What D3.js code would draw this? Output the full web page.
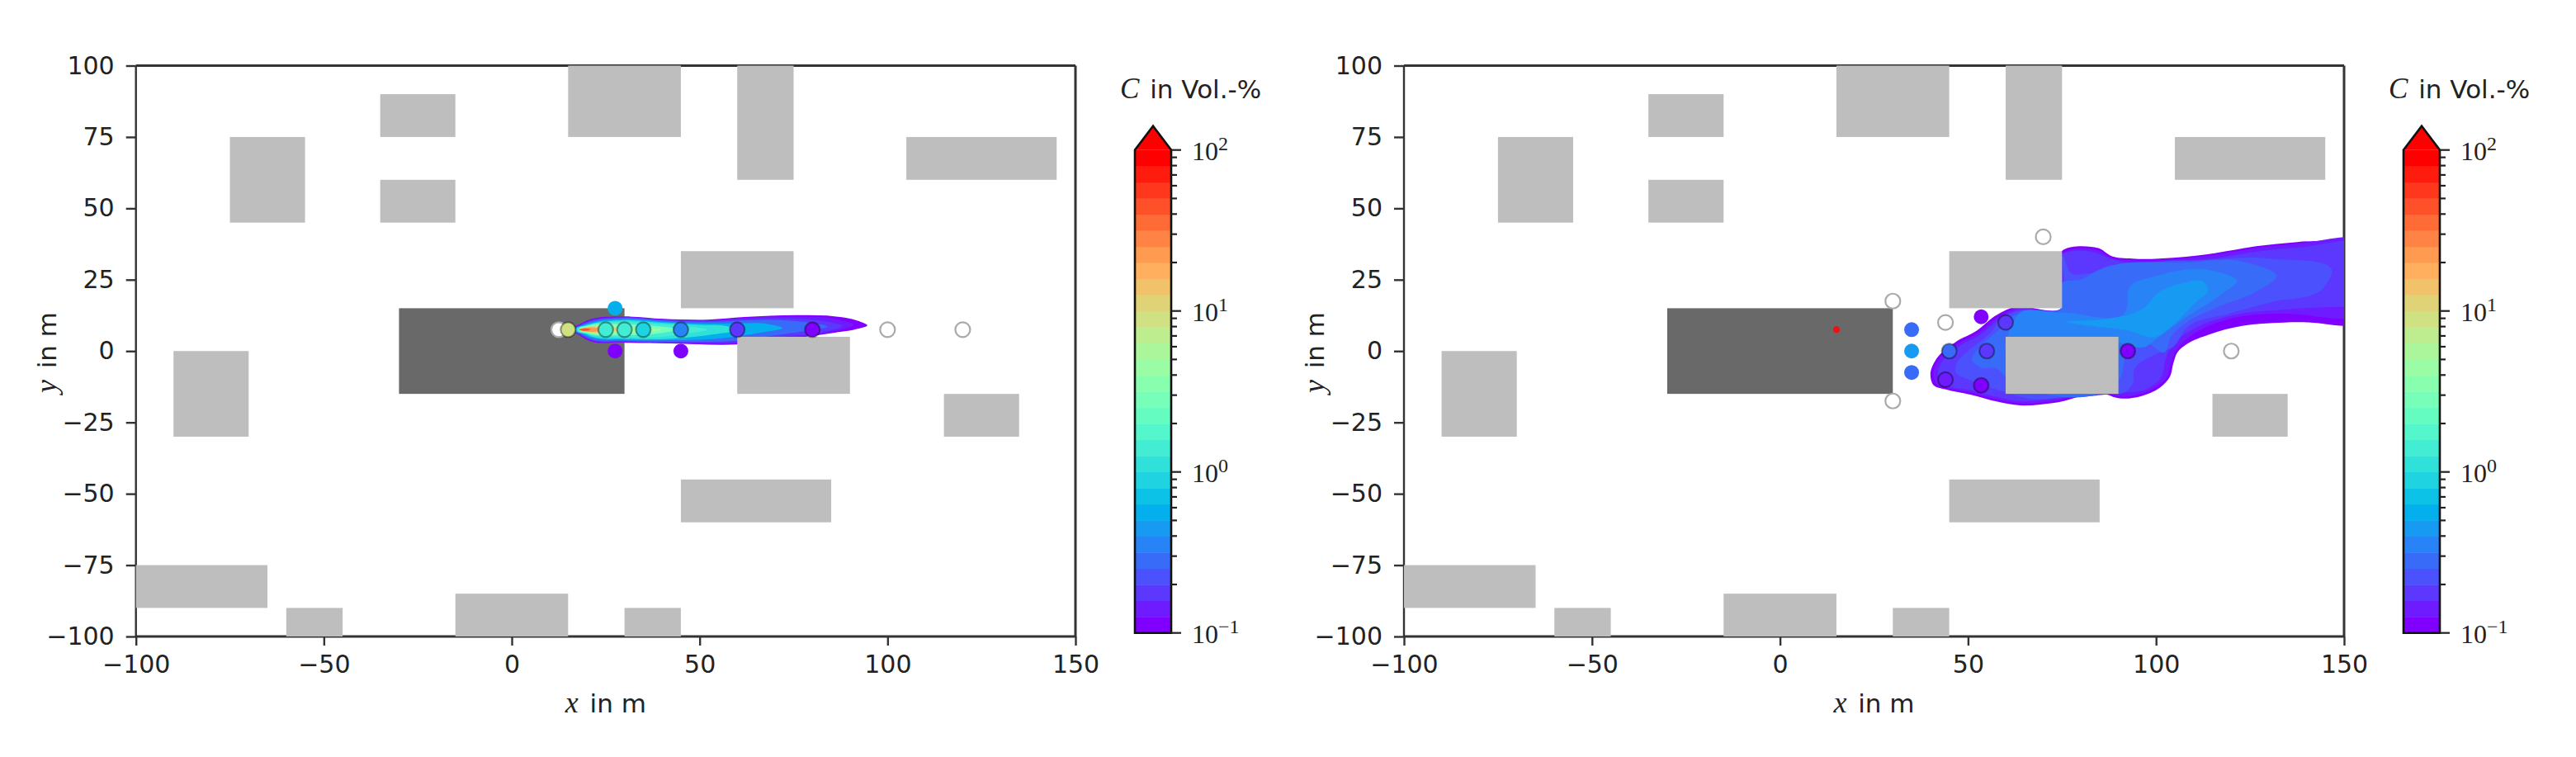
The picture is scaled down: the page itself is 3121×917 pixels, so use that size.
<!DOCTYPE html>
<html>
<head>
<meta charset="utf-8">
<script src="https://cdn.jsdelivr.net/npm/d3@7"></script>
<style>
  html, body { margin: 0; background: #fff; }
  text { font-family: "DejaVu Sans", sans-serif; fill: #222; }
</style>
</head>
<body>
<svg id="chart" width="3121" height="917"></svg>
<script>
// buildings, [x0, x1, y0, y1] in m
var buildings = [
  [15, 45, 75, 100], [60, 75, 60, 100], [-35, -15, 75, 90], [-75, -55, 45, 75],
  [-35, -15, 45, 60], [105, 145, 60, 75], [45, 75, 15, 35], [60, 90, -15, 5],
  [-90, -70, -30, 0], [115, 135, -30, -15], [45, 85, -60, -45], [-100, -65, -90, -75],
  [-60, -45, -100, -90], [-15, 15, -100, -85], [30, 45, -100, -90]
];
var hall = [-30, 30, -15, 15];

var xTicks = [-100, -50, 0, 50, 100, 150];
var yTicks = [-100, -75, -50, -25, 0, 25, 50, 75, 100];

// sensors, [x, y, concentration]
var emptyLeft = [[12.5, 7.5], [100, 7.5], [120, 7.5]];
var inCloudLeft = [
  [15, 7.5, 8], [25, 7.5, 1.5], [30, 7.5, 1.3], [35, 7.5, 0.9],
  [45, 7.5, 0.33], [60, 7.5, 0.19], [80, 7.5, 0.105]
];
var outsideLeft = [[27.5, 15, 0.6], [27.5, 0, 0.105], [45, 0, 0.105]];

var emptyRight = [[70, 40], [30, 17.5], [30, -17.5], [44, 10], [120, 0]];
var inCloudRight = [
  [45, 0, 0.3], [55, 0, 0.19], [60, 10, 0.19], [44, -10, 0.15],
  [53.5, -12, 0.105], [92.5, 0, 0.115]
];
var outsideRight = [[35, 7.5, 0.3], [35, 0, 0.45], [35, -7.5, 0.3], [53.5, 12, 0.105]];
var sourceRight = [15, 7.5];

// contour outlines of the cloud, [level, points] from the outside in
var plumeLeft = [
  [0.1, [[16.5, 8.2], [18, 9.3], [20, 10.7], [29.7, 12.1], [40.4, 11.3], [52.2, 11], [61.9, 11.9], [76.6, 12.6], [86.3, 12.1], [92, 10.6], [94.6, 9], [92, 7.8], [86.3, 6.5], [71.7, 3.9], [60, 2.3], [42.4, 2.7], [29.7, 3], [20, 3.9], [18, 5.6], [16.5, 6.9]]],
  [0.13, [[16.6, 8.1], [18.1, 9.2], [20.2, 10.55], [30, 11.95], [40, 11.15], [52, 10.85], [62, 11.6], [76, 12.1], [86, 11.3], [91, 9.2], [86, 7], [72, 4.4], [60, 2.7], [42, 2.85], [30, 3.15], [20.2, 4.05], [18.1, 5.7], [16.6, 7]]],
  [0.17, [[16.7, 8], [18.2, 9.1], [20.4, 10.4], [30, 11.8], [40, 11], [52, 10.6], [62, 11.2], [76, 11.3], [84, 10.3], [88, 8.8], [84, 7], [72, 5], [60, 3.2], [42, 3], [30, 3.3], [20.4, 4.2], [18.2, 5.8], [16.7, 7]]],
  [0.28, [[16.8, 7.9], [18.4, 9], [20.6, 10.2], [30, 11.6], [40, 10.7], [52, 10.2], [62, 10.7], [72, 10.8], [80, 9.8], [84, 8.6], [78, 7], [70, 5.5], [60, 3.7], [42, 3.3], [30, 3.5], [20.6, 4.4], [18.4, 5.9], [16.8, 7.1]]],
  [0.6, [[17, 7.8], [18.6, 8.9], [21, 9.9], [30, 11.2], [40, 10.3], [52, 9.6], [60, 9.7], [68, 9.5], [72, 8.2], [66, 6.4], [58, 4.8], [42, 3.8], [30, 3.9], [21, 4.8], [18.6, 6.1], [17, 7.2]]],
  [1, [[17.2, 7.7], [19, 8.7], [21, 9.5], [30, 10.8], [40, 9.9], [50, 9.2], [58, 8.5], [60, 7.6], [54, 5.9], [42, 4.3], [30, 4.3], [21, 5.2], [19, 6.4], [17.2, 7.3]]],
  [1.5, [[17.5, 7.7], [20, 9], [30, 10.2], [40, 9.4], [48, 8.5], [52, 7.5], [46, 6], [40, 5], [30, 4.9], [20, 6], [17.5, 7.2]]],
  [3, [[18, 7.8], [20, 8.8], [30, 9.4], [38, 8.8], [44, 7.6], [38, 6], [30, 5.6], [20, 6.2], [18, 7.2]]],
  [5, [[18.5, 7.7], [21, 8.7], [30, 8.8], [36, 8.3], [40, 7.5], [36, 6.5], [30, 6.2], [21, 6.3]]],
  [10, [[18, 7.6], [21, 8.5], [26, 8.4], [30, 7.7], [26, 6.7], [21, 6.5]]],
  [20, [[18, 7.5], [20, 8.2], [23, 8.1], [25, 7.5], [23, 6.9], [20, 6.8]]],
  [40, [[18, 7.5], [19, 7.9], [21, 7.6], [19, 7.1]]]
];
var plumeRight = [
  [0.1, [[75.4, 35.5], [82.7, 36.5], [85.2, 35.8], [87.8, 33.5], [93.7, 32.4], [104.6, 32.7], [115.6, 34.3], [126.6, 36.7], [137.5, 38.2], [149.6, 38.9], [156, 39.3], [156, 8.6], [149.6, 8.8], [141.2, 10], [133.9, 10], [122.9, 8.8], [114.1, 5.8], [108.3, 2.5], [105.7, -0.4], [104.6, -4.3], [103.7, -9], [101, -12.9], [96, -15.8], [89, -16.2], [87.2, -15.3], [72.5, -18.2], [63.8, -19], [57.8, -17.7], [50.8, -15.3], [43.9, -13.4], [40.8, -11.9], [40, -8], [41.3, -3.3], [46.5, 3], [52.5, 7.3], [56.9, 12.1], [61.2, 15], [75, 15]]],
  [0.13, [[75.4, 34.5], [82.7, 35.8], [85.2, 35], [87.8, 32.8], [93.7, 31.8], [104.6, 32.1], [115.6, 33.7], [126.6, 36.1], [137.5, 37.6], [156, 38.4], [156, 11], [149.6, 11.2], [133.9, 13.1], [119.3, 11.2], [110.5, 6.4], [106.1, 1.5], [103.9, -4.3], [103, -9], [100, -12.5], [96, -15], [89, -15.5], [87.5, -14.5], [72.5, -17.5], [64, -18.3], [58, -17], [51, -14.6], [44, -12.7], [41.5, -11.3], [40.8, -8], [42, -3.5], [47, 2.3], [53, 6.6], [57.4, 11.4], [61.5, 14.4], [75, 15]]],
  [0.17, [[75, 34], [80, 35.2], [84, 34.4], [87.8, 32.4], [104.6, 31.2], [115.6, 32.5], [126.6, 34.8], [137.5, 36.2], [156, 37], [156, 15.5], [149.6, 15.5], [133.9, 14.5], [119.3, 12.2], [109, 7], [104.5, 2.5], [102.5, -3], [101.5, -9], [98, -13], [90, -14.7], [72, -16.8], [64, -17.6], [58, -16.2], [51, -13.8], [44.5, -12], [42.5, -10], [42, -8], [43, -4], [47.5, 1.5], [53.5, 6], [58, 11], [62, 14], [75, 14.5]]],
  [0.21, [[75.4, 33], [77.9, 26.9], [80.5, 26.9], [86.3, 28.5], [97.3, 31], [112, 31.9], [130.2, 32.4], [146.7, 27.1], [144.9, 22.7], [130.2, 17], [119.3, 13.1], [108.3, 8.3], [104.6, 1.5], [99.5, -1.4], [94.3, -6.2], [93.6, -12], [90.7, -14.9], [87.4, -14.4], [65, -16.4], [60, -14.4], [50.4, -10.1], [46.7, -7.2], [46.7, -5.3], [50.4, 0.5], [55.5, 5.8], [59.2, 11.6], [62.9, 13.8], [75, 15.2]]],
  [0.27, [[75, 24], [80, 25], [84.9, 28.5], [108.3, 31], [122.9, 31.4], [132.1, 26.1], [126.6, 20.8], [115.6, 15], [108.3, 10.2], [103.9, 4.9], [102.4, -0.4], [96.5, 3.4], [92.1, -1.4], [90.7, -9], [60, -9], [57.7, -6.2], [53.3, -5.7], [51.1, -3.3], [54, 2.5], [58.5, 7.8], [61.7, 12.1], [74.6, 15]]],
  [0.35, [[92.6, 21.3], [101, 26.6], [115.6, 28], [121.5, 24.7], [116.3, 18.9], [106.1, 10.2], [100.2, 4.4], [97.3, 1.5], [90, 3], [60, 3], [60.6, 5.4], [62.1, 10.2], [63.2, 12.6], [74.6, 13.5], [92.1, 14.5], [92.5, 18.4]]],
  [0.43, [[76.1, 10.2], [86.3, 11.2], [96.6, 15], [101, 20.8], [106.8, 23.7], [112.7, 24.2], [113.8, 21.3], [110.5, 17], [104.6, 9.2], [99.9, 4.9], [92.2, 7.3], [82.7, 8.8]]]
];

var cbarTicks = [0.1, 1, 10, 100];
var cbarExponents = ["\u22121", "0", "1", "2"];

var nBands = 30;
var bandLevels = d3.range(nBands + 1).map(function(i) { return Math.pow(10, -1 + i * 3 / nBands); });

// matplotlib rainbow
var rainbow = function(t) {
  var r = Math.min(1, Math.abs(2 * t - 0.5)),
      g = Math.sin(Math.PI * t),
      b = Math.cos(Math.PI * t / 2);
  return d3.rgb(r * 255, g * 255, b * 255).formatHex();
};

var bandColor = function(c) {
  var i = Math.floor((Math.log10(c) + 1) * nBands / 3 + 1e-9);
  i = Math.max(0, Math.min(nBands - 1, i));
  return rainbow(i / (nBands - 1));
};

var svg = d3.select("#chart");
var axisColor = "#333";
var serif = "Liberation Serif";

var drawPanel = function(opts, plume, empty, inCloud, outside, source) {
  var top = 79.5, bottom = 771,
      x = d3.scaleLinear().domain([-100, 150]).range([opts.left, opts.right]),
      y = d3.scaleLinear().domain([-100, 100]).range([bottom, top]),
      g = svg.append("g");

  var clipId = "clip" + Math.round(opts.left);
  svg.append("clipPath").attr("id", clipId).append("rect")
    .attr("x", opts.left).attr("y", top)
    .attr("width", opts.right - opts.left).attr("height", bottom - top);

  // frame first, the buildings cover half of the line
  [[opts.left, top, opts.right, top, 3.2], [opts.left, bottom, opts.right, bottom, 3.2],
   [opts.left, top, opts.left, bottom, 2.4], [opts.right, top, opts.right, bottom, 3]]
    .forEach(function(s) {
      g.append("line")
        .attr("x1", s[0]).attr("y1", s[1]).attr("x2", s[2]).attr("y2", s[3])
        .attr("stroke", axisColor).attr("stroke-width", s[4]);
    });

  var xAxis = g.append("g").attr("transform", "translate(0," + bottom + ")")
    .call(d3.axisBottom(x).tickValues(xTicks).tickSize(11).tickPadding(12));
  var yAxis = g.append("g").attr("transform", "translate(" + opts.left + ",0)")
    .call(d3.axisLeft(y).tickValues(yTicks).tickSize(12).tickPadding(14));
  [xAxis, yAxis].forEach(function(a) {
    a.select(".domain").remove();
    a.selectAll("line").attr("stroke", axisColor).attr("stroke-width", 2.4);
    a.selectAll("text").attr("font-size", 30).style("font-family", "DejaVu Sans").style("fill", "#222");
  });

  // hall
  g.append("rect")
    .attr("x", x(hall[0])).attr("width", x(hall[1]) - x(hall[0]))
    .attr("y", y(hall[3])).attr("height", y(hall[2]) - y(hall[3]))
    .attr("fill", "#696969");

  // cloud
  var line = d3.line()
    .x(function(d) { return x(d[0]); })
    .y(function(d) { return y(d[1]); })
    .curve(d3.curveCatmullRomClosed.alpha(1));
  g.append("g").attr("clip-path", "url(#" + clipId + ")")
    .selectAll("path").data(plume).enter().append("path")
    .attr("d", function(d) { return line(d[1]); })
    .attr("fill", function(d) { return bandColor(d[0]); });

  // buildings
  g.append("g").selectAll("rect").data(buildings).enter().append("rect")
    .attr("x", function(d) { return x(d[0]); })
    .attr("width", function(d) { return x(d[1]) - x(d[0]); })
    .attr("y", function(d) { return y(d[3]); })
    .attr("height", function(d) { return y(d[2]) - y(d[3]); })
    .attr("fill", "#bebebe");

  if (source) {
    g.append("circle")
      .attr("cx", x(source[0])).attr("cy", y(source[1])).attr("r", 4)
      .attr("fill", "#f01010");
  }

  // sensors
  var drawSensors = function(data, fill, stroke, opacity) {
    g.append("g").selectAll("circle").data(data).enter().append("circle")
      .attr("cx", function(d) { return x(d[0]); })
      .attr("cy", function(d) { return y(d[1]); })
      .attr("r", 9)
      .attr("fill", fill)
      .attr("stroke", stroke).attr("stroke-opacity", opacity).attr("stroke-width", 2.2);
  };
  var sensorFill = function(d) { return bandColor(d[2]); };
  drawSensors(empty, "#fff", "#aaa", 1);
  drawSensors(inCloud, sensorFill, "#000", 0.38);
  drawSensors(outside, sensorFill, "none", 0);

  // axis labels
  var xl = g.append("text").attr("x", (opts.left + opts.right) / 2).attr("y", 863)
    .attr("text-anchor", "middle").attr("font-size", 31);
  xl.append("tspan").attr("font-family", serif).attr("font-style", "italic").attr("font-size", 36).text("x");
  xl.append("tspan").attr("dx", 4).text(" in m");

  var yl = g.append("text")
    .attr("transform", "translate(" + (opts.left - 97) + ",427) rotate(-90)")
    .attr("text-anchor", "middle").attr("font-size", 31);
  yl.append("tspan").attr("font-family", serif).attr("font-style", "italic").attr("font-size", 36).text("y");
  yl.append("tspan").attr("dx", 4).text(" in m");

  // colorbar
  var barLeft = opts.right + 72, barRight = barLeft + 44, tip = 152.7,
      c = d3.scaleLog().domain([0.1, 100]).range([766.7, 181.7]),
      cg = svg.append("g");

  cg.selectAll("rect").data(d3.range(nBands)).enter().append("rect")
    .attr("x", barLeft).attr("width", barRight - barLeft)
    .attr("y", function(i) { return c(bandLevels[i + 1]); })
    .attr("height", function(i) { return c(bandLevels[i]) - c(bandLevels[i + 1]) + 0.5; })
    .attr("fill", function(i) { return rainbow(i / (nBands - 1)); });

  var mid = (barLeft + barRight) / 2;
  cg.append("path")
    .attr("d", "M" + barLeft + "," + c(100) + "L" + mid + "," + tip + "L" + barRight + "," + c(100) + "Z")
    .attr("fill", "#ff0000");
  cg.append("path")
    .attr("d", "M" + barLeft + "," + c(0.1) + "V" + c(100) + "L" + mid + "," + tip + "L" + barRight + "," + c(100) + "V" + c(0.1) + "Z")
    .attr("fill", "none").attr("stroke", "#111").attr("stroke-width", 2.6);

  cg.selectAll("line").data(c.ticks()).enter().append("line")
    .attr("x1", barRight)
    .attr("x2", function(d) { return barRight + (cbarTicks.indexOf(+d.toPrecision(3)) >= 0 ? 12 : 7); })
    .attr("y1", function(d) { return c(d); })
    .attr("y2", function(d) { return c(d); })
    .attr("stroke", "#222").attr("stroke-width", 2.2);

  var labels = cg.selectAll("text.tick").data(cbarTicks).enter().append("text")
    .attr("class", "tick")
    .attr("x", barRight + 25)
    .attr("y", function(d) { return c(d) + 12.5; })
    .attr("font-size", 32).style("font-family", serif);
  labels.append("tspan").text("10");
  labels.append("tspan")
    .attr("dy", -12).attr("font-size", 24)
    .text(function(d, i) { return cbarExponents[i]; });

  var title = cg.append("text").attr("x", barLeft - 18).attr("y", 119)
    .attr("font-size", 31);
  title.append("tspan").attr("font-family", serif).attr("font-style", "italic").attr("font-size", 35).text("C");
  title.append("tspan").attr("dx", 3).text(" in Vol.-%");
};

drawPanel({left: 164.7, right: 1303}, plumeLeft, emptyLeft, inCloudLeft, outsideLeft, null);
drawPanel({left: 1701, right: 2840}, plumeRight, emptyRight, inCloudRight, outsideRight, sourceRight);
</script>
</body>
</html>
